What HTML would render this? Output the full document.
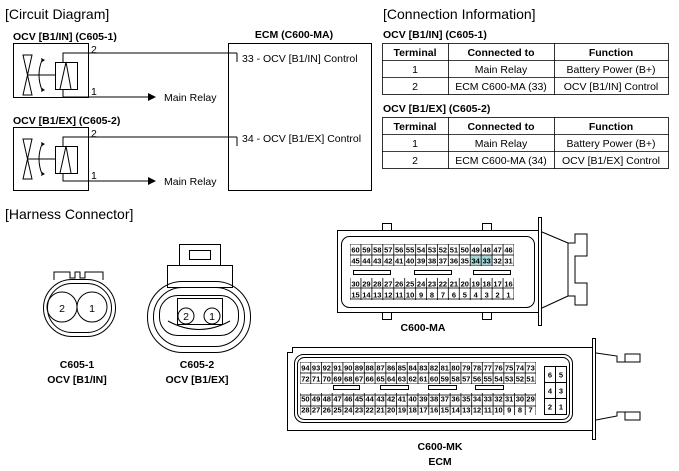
<!DOCTYPE html>
<html><head><meta charset="utf-8"><style>
html,body{margin:0;padding:0;background:#fff}
svg{display:block;font-family:"Liberation Sans",Arial,sans-serif}
.t{font-size:14px}
.b{font-size:10.5px;font-weight:bold}
.n{font-size:10.5px}
.c{font-size:10.5px}
.p{font-size:7.5px;text-anchor:middle}
.m{text-anchor:middle}
</style></head><body>
<svg width="679" height="471" viewBox="0 0 679 471" xmlns="http://www.w3.org/2000/svg">
<defs>
<pattern id="ga" x="350" y="244" width="10.933" height="11" patternUnits="userSpaceOnUse"><rect x="0" y="0" width="10.933" height="11" fill="none" stroke="#000" stroke-width="0.8"/></pattern>
<pattern id="gk" x="300" y="362" width="10.727" height="11" patternUnits="userSpaceOnUse"><rect x="0" y="0" width="10.727" height="11" fill="none" stroke="#000" stroke-width="0.8"/></pattern>
<marker id="ar" markerWidth="8" markerHeight="8" refX="7" refY="4" orient="auto" markerUnits="userSpaceOnUse"><path d="M0,0 L8,4 L0,8 Z" fill="#000"/></marker>
</defs>
<g fill="none" stroke="#000" stroke-width="1">
<rect x="13.5" y="43.5" width="75" height="54"/>
<rect x="13.5" y="127.5" width="75" height="63"/>
<rect x="228.5" y="43.5" width="143" height="147"/>
<path d="M23,55 L32,55 L23,95 L32,95 Z"/>
<path d="M28,75 H55"/>
<rect x="55.5" y="62.5" width="22" height="27"/>
<path d="M60,89 L66,62 L71,89"/>
<path d="M42,60 Q36,75 42,90"/>
<path d="M63,62 V53 H237 M237,53 V62" />
<path d="M63,89 V97 H155" marker-end="url(#ar)"/>
<path d="M23,139 L32,139 L23,179 L32,179 Z"/>
<path d="M28,159 H55"/>
<rect x="55.5" y="146.5" width="22" height="27"/>
<path d="M60,173 L66,146 L71,173"/>
<path d="M42,144 Q36,159 42,174"/>
<path d="M63,146 V137 H237 M237,137 V146"/>
<path d="M63,173 V181 H155" marker-end="url(#ar)"/>
</g>
<path d="M41,58 l4,2 -3,2z M41,92 l4,-2 -3,-2z M41,142 l4,2 -3,2z M41,176 l4,-2 -3,-2z" fill="#000"/>
<text x="5" y="19" class="t">[Circuit Diagram]</text>
<text x="13" y="40" class="b">OCV [B1/IN] (C605-1)</text>
<text x="13" y="124" class="b">OCV [B1/EX] (C605-2)</text>
<text x="294" y="38" class="b m">ECM (C600-MA)</text>
<text x="91" y="53" class="n">2</text><text x="91" y="95" class="n">1</text>
<text x="91" y="137" class="n">2</text><text x="91" y="179" class="n">1</text>
<text x="164" y="101" class="c">Main Relay</text>
<text x="164" y="185" class="c">Main Relay</text>
<text x="242" y="62" class="c">33 - OCV [B1/IN] Control</text>
<text x="242" y="142" class="c">34 - OCV [B1/EX] Control</text>
<text x="383" y="19" class="t">[Connection Information]</text>
<text x="383" y="38" class="b">OCV [B1/IN] (C605-1)</text>
<text x="383" y="112" class="b">OCV [B1/EX] (C605-2)</text>
<g fill="none" stroke="#000" stroke-width="0.8">
<rect x="382.5" y="43.5" width="286" height="51"/>
<path d="M382,60.5H669 M382,77.5H669 M448.5,43V95 M554.5,43V95"/>
<rect x="382.5" y="117.5" width="286" height="51"/>
<path d="M382,134.5H669 M382,151.5H669 M448.5,117V169 M554.5,117V169"/>
</g>
<g class="c" text-anchor="middle">
<text x="415" y="56" font-weight="bold">Terminal</text><text x="501" y="56" font-weight="bold">Connected to</text><text x="611" y="56" font-weight="bold">Function</text>
<text x="415" y="73">1</text><text x="501" y="73">Main Relay</text><text x="611" y="73">Battery Power (B+)</text>
<text x="415" y="90">2</text><text x="501" y="90">ECM C600-MA (33)</text><text x="611" y="90">OCV [B1/IN] Control</text>
<text x="415" y="130" font-weight="bold">Terminal</text><text x="501" y="130" font-weight="bold">Connected to</text><text x="611" y="130" font-weight="bold">Function</text>
<text x="415" y="147">1</text><text x="501" y="147">Main Relay</text><text x="611" y="147">Battery Power (B+)</text>
<text x="415" y="164">2</text><text x="501" y="164">ECM C600-MA (34)</text><text x="611" y="164">OCV [B1/EX] Control</text>
</g>
<text x="5" y="219" class="t">[Harness Connector]</text>
<g fill="none" stroke="#000" stroke-width="1">
<path d="M54,280 V272 H70 V278 H75 V272 H80 V278 H85 V272 H103 V280"/>
<rect x="43.5" y="279.5" width="72" height="57" rx="28.5"/>
<rect x="47.5" y="283.5" width="64" height="49" rx="24.5"/>
<circle cx="62" cy="307" r="15"/><circle cx="92" cy="307" r="15"/>
<rect x="179.5" y="244.5" width="41" height="21"/>
<rect x="189.5" y="250.5" width="21" height="9"/>
<rect x="167.5" y="265.5" width="65" height="22"/>
<rect x="147.5" y="281.5" width="103" height="71" rx="35"/>
<rect x="153.5" y="287.5" width="91" height="59" rx="29"/>
<rect x="159.5" y="295.5" width="79" height="40" rx="18"/>
<rect x="177.5" y="298.5" width="45" height="26"/>
<path d="M168,321 Q199,338 230,321"/>
<circle cx="186" cy="316" r="8"/><circle cx="212" cy="316" r="8"/>
</g>
<text x="62" y="312" class="n m">2</text><text x="92" y="312" class="n m">1</text>
<text x="186" y="320" class="n m">2</text><text x="212" y="320" class="n m">1</text>
<text x="77" y="368" class="b m">C605-1</text><text x="77" y="383" class="b m">OCV [B1/IN]</text>
<text x="197" y="368" class="b m">C605-2</text><text x="197" y="383" class="b m">OCV [B1/EX]</text>
<g fill="none" stroke="#000" stroke-width="1">
<path d="M337.5,230.5 H538.5 V312.5 H337.5 Z"/>
<rect x="341.5" y="236.5" width="193" height="71" rx="8"/>
<rect x="382.5" y="223.5" width="9" height="7"/><rect x="482.5" y="223.5" width="9" height="7"/>
<rect x="382.5" y="312.5" width="9" height="7"/><rect x="482.5" y="312.5" width="9" height="7"/>
<rect x="538.5" y="217.5" width="3" height="108"/>
<path d="M542,232 L568,243 V268 M542,308 L568,296 V268"/>
<path d="M568,243 H575 V234 H587 V256 H575 V268 M568,296 H575 V305 H587 V283 H575 V268"/>
<rect x="353.5" y="270.5" width="37" height="4"/><rect x="414.5" y="270.5" width="37" height="4"/><rect x="473.5" y="270.5" width="37" height="4"/>
</g>
<rect x="470.3" y="255" width="21.9" height="11" fill="#a6d5d8"/>
<rect x="350" y="244" width="164" height="22" fill="url(#ga)"/>
<rect x="350" y="278" width="164" height="22" fill="url(#ga)"/>
<g class="p" font-weight="bold">
<text x="355.5" y="252.5">60</text><text x="366.4" y="252.5">59</text><text x="377.3" y="252.5">58</text><text x="388.3" y="252.5">57</text><text x="399.2" y="252.5">56</text><text x="410.1" y="252.5">55</text><text x="421.1" y="252.5">54</text><text x="432" y="252.5">53</text><text x="442.9" y="252.5">52</text><text x="453.9" y="252.5">51</text><text x="464.8" y="252.5">50</text><text x="475.7" y="252.5">49</text><text x="486.7" y="252.5">48</text><text x="497.6" y="252.5">47</text><text x="508.5" y="252.5">46</text>
<text x="355.5" y="263.5">45</text><text x="366.4" y="263.5">44</text><text x="377.3" y="263.5">43</text><text x="388.3" y="263.5">42</text><text x="399.2" y="263.5">41</text><text x="410.1" y="263.5">40</text><text x="421.1" y="263.5">39</text><text x="432" y="263.5">38</text><text x="442.9" y="263.5">37</text><text x="453.9" y="263.5">36</text><text x="464.8" y="263.5">35</text><text x="475.7" y="263.5">34</text><text x="486.7" y="263.5">33</text><text x="497.6" y="263.5">32</text><text x="508.5" y="263.5">31</text>
<text x="355.5" y="286.5">30</text><text x="366.4" y="286.5">29</text><text x="377.3" y="286.5">28</text><text x="388.3" y="286.5">27</text><text x="399.2" y="286.5">26</text><text x="410.1" y="286.5">25</text><text x="421.1" y="286.5">24</text><text x="432" y="286.5">23</text><text x="442.9" y="286.5">22</text><text x="453.9" y="286.5">21</text><text x="464.8" y="286.5">20</text><text x="475.7" y="286.5">19</text><text x="486.7" y="286.5">18</text><text x="497.6" y="286.5">17</text><text x="508.5" y="286.5">16</text>
<text x="355.5" y="297.5">15</text><text x="366.4" y="297.5">14</text><text x="377.3" y="297.5">13</text><text x="388.3" y="297.5">12</text><text x="399.2" y="297.5">11</text><text x="410.1" y="297.5">10</text><text x="421.1" y="297.5">9</text><text x="432" y="297.5">8</text><text x="442.9" y="297.5">7</text><text x="453.9" y="297.5">6</text><text x="464.8" y="297.5">5</text><text x="475.7" y="297.5">4</text><text x="486.7" y="297.5">3</text><text x="497.6" y="297.5">2</text><text x="508.5" y="297.5">1</text>
</g>
<text x="423" y="331" class="b m">C600-MA</text>
<g fill="none" stroke="#000" stroke-width="1">
<path d="M292.5,347.5 H592.5 V430.5 H287.5 V352.5 H292.5 Z"/>
<rect x="294.5" y="354.5" width="278" height="68" rx="9"/>
<rect x="297.5" y="357.5" width="272" height="62" rx="7"/>
<rect x="592.5" y="338.5" width="3" height="101"/>
<path d="M596,353 L617,356 V362 H625 V354 H640 V362 H617 M596,420 L617,416 V412 H625 V420 H640 V412 H617"/>
<rect x="333.5" y="385.5" width="26" height="4"/><rect x="380.5" y="385.5" width="28" height="4"/><rect x="428.5" y="385.5" width="28" height="4"/><rect x="475.5" y="385.5" width="28" height="4"/>
<rect x="544.5" y="366.5" width="22" height="48"/>
<path d="M544,382.5H567 M544,398.5H567 M555.5,366V415"/>
</g>
<rect x="300" y="362" width="236" height="22" fill="url(#gk)"/>
<rect x="300" y="393" width="236" height="22" fill="url(#gk)"/>
<g class="p" font-weight="bold">
<text x="305.4" y="370.5">94</text><text x="316.1" y="370.5">93</text><text x="326.8" y="370.5">92</text><text x="337.5" y="370.5">91</text><text x="348.3" y="370.5">90</text><text x="359" y="370.5">89</text><text x="369.7" y="370.5">88</text><text x="380.5" y="370.5">87</text><text x="391.2" y="370.5">86</text><text x="401.9" y="370.5">85</text><text x="412.7" y="370.5">84</text><text x="423.4" y="370.5">83</text><text x="434.1" y="370.5">82</text><text x="444.8" y="370.5">81</text><text x="455.6" y="370.5">80</text><text x="466.3" y="370.5">79</text><text x="477" y="370.5">78</text><text x="487.8" y="370.5">77</text><text x="498.5" y="370.5">76</text><text x="509.2" y="370.5">75</text><text x="519.9" y="370.5">74</text><text x="530.6" y="370.5">73</text>
<text x="305.4" y="381.5">72</text><text x="316.1" y="381.5">71</text><text x="326.8" y="381.5">70</text><text x="337.5" y="381.5">69</text><text x="348.3" y="381.5">68</text><text x="359" y="381.5">67</text><text x="369.7" y="381.5">66</text><text x="380.5" y="381.5">65</text><text x="391.2" y="381.5">64</text><text x="401.9" y="381.5">63</text><text x="412.7" y="381.5">62</text><text x="423.4" y="381.5">61</text><text x="434.1" y="381.5">60</text><text x="444.8" y="381.5">59</text><text x="455.6" y="381.5">58</text><text x="466.3" y="381.5">57</text><text x="477" y="381.5">56</text><text x="487.8" y="381.5">55</text><text x="498.5" y="381.5">54</text><text x="509.2" y="381.5">53</text><text x="519.9" y="381.5">52</text><text x="530.6" y="381.5">51</text>
<text x="305.4" y="401.5">50</text><text x="316.1" y="401.5">49</text><text x="326.8" y="401.5">48</text><text x="337.5" y="401.5">47</text><text x="348.3" y="401.5">46</text><text x="359" y="401.5">45</text><text x="369.7" y="401.5">44</text><text x="380.5" y="401.5">43</text><text x="391.2" y="401.5">42</text><text x="401.9" y="401.5">41</text><text x="412.7" y="401.5">40</text><text x="423.4" y="401.5">39</text><text x="434.1" y="401.5">38</text><text x="444.8" y="401.5">37</text><text x="455.6" y="401.5">36</text><text x="466.3" y="401.5">35</text><text x="477" y="401.5">34</text><text x="487.8" y="401.5">33</text><text x="498.5" y="401.5">32</text><text x="509.2" y="401.5">31</text><text x="519.9" y="401.5">30</text><text x="530.6" y="401.5">29</text>
<text x="305.4" y="412.5">28</text><text x="316.1" y="412.5">27</text><text x="326.8" y="412.5">26</text><text x="337.5" y="412.5">25</text><text x="348.3" y="412.5">24</text><text x="359" y="412.5">23</text><text x="369.7" y="412.5">22</text><text x="380.5" y="412.5">21</text><text x="391.2" y="412.5">20</text><text x="401.9" y="412.5">19</text><text x="412.7" y="412.5">18</text><text x="423.4" y="412.5">17</text><text x="434.1" y="412.5">16</text><text x="444.8" y="412.5">15</text><text x="455.6" y="412.5">14</text><text x="466.3" y="412.5">13</text><text x="477" y="412.5">12</text><text x="487.8" y="412.5">11</text><text x="498.5" y="412.5">10</text><text x="509.2" y="412.5">9</text><text x="519.9" y="412.5">8</text><text x="530.6" y="412.5">7</text>
<text x="550" y="377.5">6</text><text x="561" y="377.5">5</text>
<text x="550" y="393.5">4</text><text x="561" y="393.5">3</text>
<text x="550" y="409.5">2</text><text x="561" y="409.5">1</text>
</g>
<text x="440" y="450" class="b m">C600-MK</text>
<text x="440" y="465" class="b m">ECM</text>
</svg>
</body></html>
